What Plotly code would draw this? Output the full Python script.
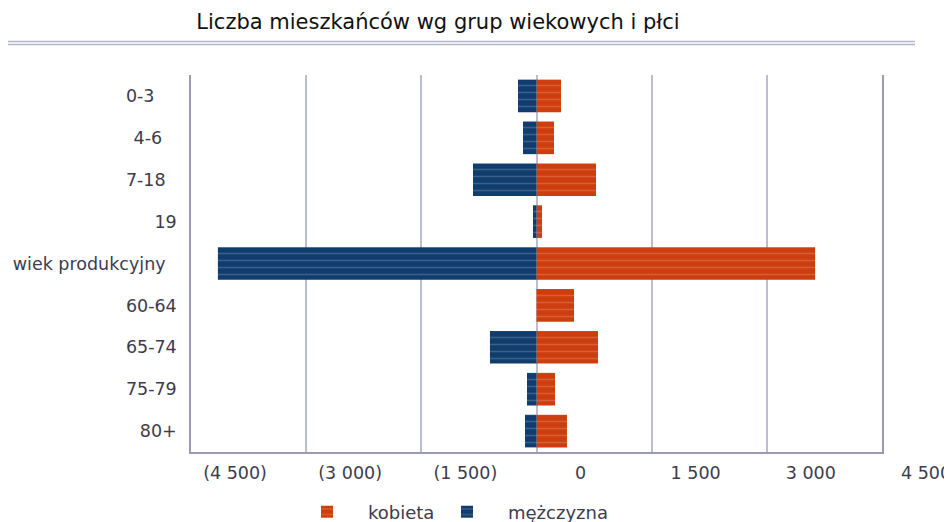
import plotly.graph_objects as go

categories = ["0-3", "4-6", "7-18", "19", "wiek produkcyjny", "60-64", "65-74", "75-79", "80+"]
tick_labels_y = ["0-3\u2007\u2007", "4-6\u2007\u2009", "7-18\u2007", "19", "wiek produkcyjny\u2007", "60-64", "65-74", "75-79", "80+"]
kobieta = [319, 228, 775, 72, 3629, 489, 801, 241, 397]
mezczyzna = [241, 176, 827, 46, 4150, 0, 606, 124, 150]
x_tickvals = [-4500, -3000, -1500, 0, 1500, 3000, 4500]
x_ticktext = ["(4 500)", "(3 000)", "(1 500)", "0", "1 500", "3 000", "4 500"]

FONT = "DejaVu Sans"
TXT = "#3c3c4e"
ORANGE = "#cd3d0d"
BLUE = "#103d6e"

# page body has an 8px margin; figure is sized/positioned to compensate
OFF = 8
W, H = 952 - OFF, 522 - OFF
L, R, T, B = 191 - OFF, 70, 75 - OFF, 70
pw = W - L - R
ph = H - T - B

fig = go.Figure()
fig.add_trace(go.Bar(
    y=categories, x=kobieta, name="kobieta", orientation="h", legend="legend",
    showlegend=True,
    marker=dict(color=ORANGE, line=dict(width=0),
                pattern=dict(shape="-", size=7, solidity=0.22,
                             fgcolor="rgba(255,255,255,0.35)", fillmode="overlay")),
))
fig.add_trace(go.Bar(
    y=categories, x=[-v for v in mezczyzna], name="mężczyzna", orientation="h", legend="legend2",
    showlegend=True,
    marker=dict(color=BLUE, line=dict(width=0),
                pattern=dict(shape="-", size=7, solidity=0.22,
                             fgcolor="rgba(255,255,255,0.35)", fillmode="overlay")),
))


def px_x(p):
    return (p - OFF - L) / pw


def px_y(p):
    return (H - B - (p - OFF)) / ph


for yy in (41.5, 44.5):
    fig.add_shape(type="line", xref="paper", yref="paper",
                  x0=px_x(OFF), x1=px_x(915), y0=px_y(yy), y1=px_y(yy),
                  line=dict(color="#b4b4c8", width=1.5))

leg_common = dict(orientation="h", xref="container", yref="container",
                  xanchor="left", yanchor="middle", y=1 - (512 - OFF) / H,
                  itemwidth=72, font=dict(family=FONT, size=18, color=TXT),
                  bgcolor="rgba(0,0,0,0)", visible=True)

fig.update_layout(
    width=W, height=H,
    showlegend=True,
    margin=dict(l=L, r=R, t=T, b=B, autoexpand=False),
    paper_bgcolor="white", plot_bgcolor="white",
    barmode="relative", bargap=0.22,
    font=dict(family=FONT, size=17.5, color=TXT),
    title=dict(text="Liczba mieszkańców wg grup wiekowych i płci",
               font=dict(family=FONT, size=21, color="#111111"),
               xref="container", x=(438 - OFF) / W, xanchor="center",
               yref="container", y=1 - (22 - OFF) / H, yanchor="middle"),
    legend=dict(x=(286 - OFF) / W, **leg_common),
    legend2=dict(x=(426 - OFF) / W, **leg_common),
    xaxis=dict(range=[-4500, 4500], tickvals=x_tickvals, ticktext=x_ticktext,
               showgrid=True, gridcolor="#bcbcd0", gridwidth=1.5,
               zeroline=False, showline=True, linecolor="#9a9ab6", linewidth=1.5,
               ticks="", ticklabelshift=44, ticklabelstandoff=4,
               automargin=False, fixedrange=True),
    yaxis=dict(autorange="reversed", tickvals=categories, ticktext=tick_labels_y,
               showgrid=False, zeroline=False, showline=True, mirror=True,
               linecolor="#9a9ab6", linewidth=1.5, ticks="",
               ticklabelstandoff=9, automargin=False),
)

fig.write_html("out.html")
